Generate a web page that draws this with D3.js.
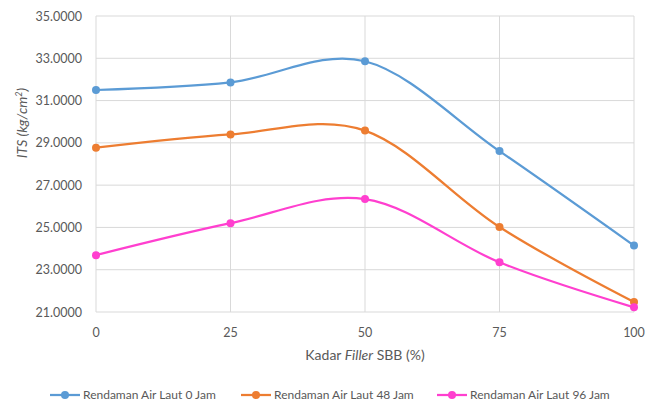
<!DOCTYPE html>
<html>
<head>
<meta charset="utf-8">
<script src="https://cdn.jsdelivr.net/npm/d3@7"></script>
<style>
  body { margin: 0; background: #fff; }
  text { font-family: Lato, "Open Sans", sans-serif; fill: #595959; }
</style>
</head>
<body>
<div id="grafico"></div>
<script>
const kadar = [0, 25, 50, 75, 100];
const jam0 = [31.50, 31.86, 32.86, 28.61, 24.14];
const jam48 = [28.77, 29.40, 29.58, 25.02, 21.47];
const jam96 = [23.69, 25.20, 26.34, 23.35, 21.22];
const yTicks = [21, 23, 25, 27, 29, 31, 33, 35];
const seriesNames = ["Rendaman Air Laut 0 Jam", "Rendaman Air Laut 48 Jam", "Rendaman Air Laut 96 Jam"];
const colors = ["#5b9bd5", "#ed7d31", "#ff3fcf"];

const width = 645, height = 404;
const svg = d3.select('#grafico').append('svg')
    .attr('width', width).attr('height', height);

const xScale = d3.scaleLinear().domain([0, 100]).range([96, 634]);
const yScale = d3.scaleLinear().domain([21, 35]).range([312, 16]);

// grid
svg.append('g').selectAll('line').data(yTicks).enter().append('line')
    .attr('x1', 96).attr('x2', 634)
    .attr('y1', d => yScale(d)).attr('y2', d => yScale(d))
    .attr('stroke', '#d9d9d9').attr('stroke-width', 1);
svg.append('g').selectAll('line').data(kadar).enter().append('line')
    .attr('x1', d => xScale(d)).attr('x2', d => xScale(d))
    .attr('y1', 16).attr('y2', 312)
    .attr('stroke', '#d9d9d9').attr('stroke-width', 1);

// tick labels
svg.append('g').selectAll('text').data(yTicks).enter().append('text')
    .attr('x', 82).attr('y', d => yScale(d) + 4.5)
    .attr('text-anchor', 'end').style('font-size', '12.5px')
    .text(d => d.toFixed(4));
svg.append('g').selectAll('text').data(kadar).enter().append('text')
    .attr('x', d => xScale(d)).attr('y', 337)
    .attr('text-anchor', 'middle').style('font-size', '12.5px')
    .text(d => d);

// axis titles
const yt = svg.append('text')
    .attr('transform', 'translate(27,123) rotate(-90)')
    .attr('text-anchor', 'middle').style('font-size', '14px').style('font-style', 'italic');
yt.append('tspan').text('ITS (kg/cm');
yt.append('tspan').attr('dy', -5).style('font-size', '9px').text('2');
yt.append('tspan').attr('dy', 5).text(')');

const xt = svg.append('text')
    .attr('x', 365).attr('y', 360)
    .attr('text-anchor', 'middle').style('font-size', '14px');
xt.append('tspan').text('Kadar ');
xt.append('tspan').style('font-style', 'italic').text('Filler');
xt.append('tspan').text(' SBB (%)');

// lines
const allSeries = [jam0, jam48, jam96];
const line = d3.line()
    .x((d, i) => xScale(kadar[i]))
    .y(d => yScale(d))
    .curve(d3.curveCardinal.tension(0));

allSeries.forEach((vals, k) => {
    svg.append('path').datum(vals)
        .attr('d', line)
        .attr('fill', 'none')
        .attr('stroke', colors[k])
        .attr('stroke-width', 2.25);
    svg.append('g').selectAll('circle').data(vals).enter().append('circle')
        .attr('cx', (d, i) => xScale(kadar[i]))
        .attr('cy', d => yScale(d))
        .attr('r', 4)
        .attr('fill', colors[k]);
});

// legend
const legendX = [50, 241, 437];
const legend = svg.append('g');
seriesNames.forEach((name, k) => {
    const g = legend.append('g').attr('transform', `translate(${legendX[k]}, 395)`);
    g.append('line').attr('x1', 0).attr('x2', 30).attr('y1', 0).attr('y2', 0)
        .attr('stroke', colors[k]).attr('stroke-width', 2.25);
    g.append('circle').attr('cx', 15).attr('cy', 0).attr('r', 4).attr('fill', colors[k]);
    g.append('text').attr('x', 33).attr('y', 4).style('font-size', '12px').text(name);
});
</script>
</body>
</html>
